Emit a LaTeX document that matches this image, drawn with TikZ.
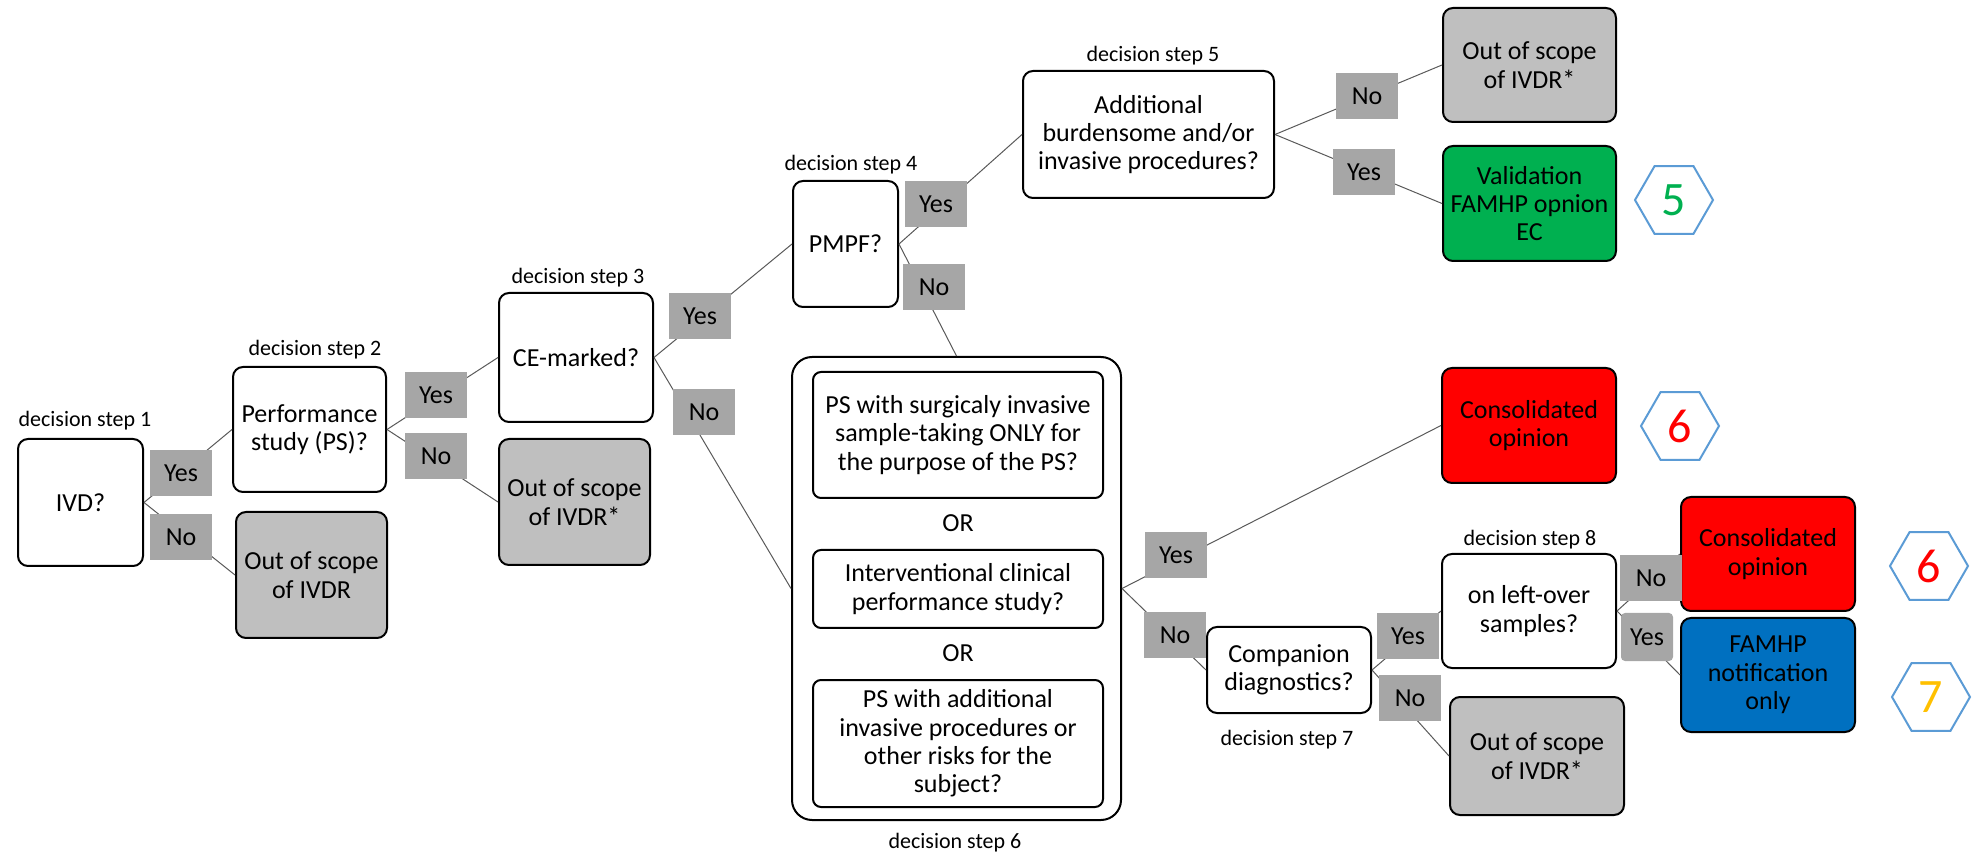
\documentclass[tikz,border=0pt]{standalone}
\usepackage{fontspec}
\setmainfont{Carlito}
\usetikzlibrary{shapes.geometric}

\definecolor{labgray}{RGB}{166,166,166}
\definecolor{outgray}{RGB}{191,191,191}
\definecolor{okgreen}{RGB}{0,176,80}
\definecolor{famblue}{RGB}{0,112,192}
\definecolor{hexblue}{RGB}{91,155,213}
\definecolor{numorange}{RGB}{255,192,0}
\definecolor{linegray}{RGB}{89,89,89}

\tikzset{
  decbox/.style={draw=black, line width=1pt, fill=white, rounded corners=5pt,
    align=center, inner sep=2pt, font=\fontsize{13}{14.2}\selectfont},
  outbox/.style={decbox, fill=outgray},
  greenbox/.style={decbox, fill=okgreen},
  redbox/.style={decbox, fill=red},
  bluebox/.style={decbox, fill=famblue},
  lab/.style={fill=labgray, minimum width=31pt, minimum height=23pt, inner sep=1pt,
    font=\fontsize{13}{14.2}\selectfont},
  steplab/.style={inner sep=0.75pt, font=\fontsize{11}{13}\selectfont},
  conn/.style={draw=linegray, line width=0.5pt},
  hexa/.style={regular polygon, regular polygon sides=6, draw=hexblue, line width=1pt,
    minimum size=39pt, inner sep=0pt, font=\fontsize{24}{28}\selectfont},
}

\begin{document}
\begin{tikzpicture}[x=0.5pt,y=0.5pt,yscale=-1,xscale=1]
\useasboundingbox (0,0) rectangle (1972,855);

%Shape: Rounded Rect (questions)
\node[decbox, minimum width=62.5pt, minimum height=63.5pt] (ivd) at (80.5,502.5) {IVD?};
\node[decbox, minimum width=76.5pt, minimum height=62.5pt] (ps) at (309.5,429.5) {Performance\\study (PS)?};
\node[decbox, minimum width=77pt, minimum height=64.5pt] (ce) at (576,357.5) {CE-marked?};
\node[decbox, minimum width=52.5pt, minimum height=63pt] (pmpf) at (845.5,244) {PMPF?};
\node[decbox, minimum width=125.5pt, minimum height=63.5pt] (add) at (1148.5,134.5) {Additional\\burdensome and/or\\invasive procedures?};
\node[decbox, minimum width=82pt, minimum height=43pt] (cd) at (1289,670) {Companion\\diagnostics?};
\node[decbox, minimum width=87pt, minimum height=57pt] (left) at (1529,611) {on left-over\\samples?};

%Shape: Rounded Rect (decision step 6)
\node[decbox, rounded corners=10pt, minimum width=164.5pt, minimum height=231.5pt] (s6) at (956.5,588.5) {};
\node[decbox, rounded corners=4pt, minimum width=145pt, minimum height=63pt] (in1) at (958,435) {PS with surgicaly invasive\\sample-taking ONLY for\\the purpose of the PS?};
\node[decbox, rounded corners=4pt, minimum width=145pt, minimum height=39pt] (in2) at (958,589) {Interventional clinical\\performance study?};
\node[decbox, rounded corners=4pt, minimum width=145pt, minimum height=63.5pt] (in3) at (958,743.5) {PS with additional\\invasive procedures or\\other risks for the\\subject?};
\node[font=\fontsize{13}{14.2}\selectfont] (or1) at (958,523) {OR};
\node[font=\fontsize{13}{14.2}\selectfont] (or2) at (958,653) {OR};

%Shape: Rounded Rect (outcomes)
\node[outbox, minimum width=75.5pt, minimum height=63pt] (out1) at (311.5,575) {Out of scope\\of IVDR};
\node[outbox, minimum width=75.5pt, minimum height=63pt] (out2) at (574.5,502) {Out of scope\\of IVDR*};
\node[outbox, minimum width=86.5pt, minimum height=57pt] (out3) at (1529.5,65) {Out of scope\\of IVDR*};
\node[outbox, minimum width=87pt, minimum height=59pt] (out4) at (1537,756) {Out of scope\\of IVDR*};
\node[greenbox, minimum width=86.5pt, minimum height=57.5pt] (valid) at (1529.5,203.5) {Validation\\FAMHP opnion\\EC};
\node[redbox, minimum width=87pt, minimum height=57.5pt] (cons1) at (1529,425.5) {Consolidated\\opinion};
\node[redbox, minimum width=87pt, minimum height=57pt] (cons2) at (1768,554) {Consolidated\\opinion};
\node[bluebox, minimum width=87pt, minimum height=57pt] (famhp) at (1768,675) {FAMHP\\notification\\only};

%Shape: Hexagon
\node[hexa, text=okgreen] (hex5) at (1674,200) {5};
\node[hexa, text=red] (hex6a) at (1680,426) {6};
\node[hexa, text=red] (hex6b) at (1929,566) {6};
\node[hexa, text=numorange] (hex7) at (1931,697) {7};

% Text Node
\node[steplab] (ds1) at (85,421) {decision step 1};
\node[steplab] (ds2) at (315,350) {decision step 2};
\node[steplab] (ds3) at (578,278) {decision step 3};
\node[steplab] (ds4) at (851,165) {decision step 4};
\node[steplab] (ds5) at (1153,56) {decision step 5};
\node[steplab] (ds6) at (955,843) {decision step 6};
\node[steplab] (ds7) at (1287,740) {decision step 7};
\node[steplab] (ds8) at (1530,540) {decision step 8};

%Straight Lines
\draw[conn] (ivd.east) -- (ps.west);
\draw[conn] (ivd.east) -- (out1.west);
\draw[conn] (ps.east) -- (ce.west);
\draw[conn] (ps.east) -- (out2.west);
\draw[conn] (ce.east) -- (pmpf.west);
\draw[conn] (ce.east) -- (s6.west);
\draw[conn] (pmpf.east) -- (s6.north);
\draw[conn] (pmpf.east) -- (add.west);
\draw[conn] (add.east) -- (out3.west);
\draw[conn] (add.east) -- (valid.west);
\draw[conn] (s6.east) -- (cons1.west);
\draw[conn] (s6.east) -- (cd.west);
\draw[conn] (cd.east) -- (left.west);
\draw[conn] (cd.east) -- (out4.west);
\draw[conn] (left.east) -- (cons2.west);
\draw[conn] (left.east) -- (famhp.west);

% Text Node (answers)
\node[lab] (ivdY) at (181,473) {Yes};
\node[lab] (ivdN) at (181,537) {No};
\node[lab] (psY) at (436,395) {Yes};
\node[lab] (psN) at (436,456) {No};
\node[lab] (ceY) at (700,316) {Yes};
\node[lab] (ceN) at (704,412) {No};
\node[lab] (pmY) at (936,204) {Yes};
\node[lab] (pmN) at (934,287) {No};
\node[lab] (adN) at (1367,96) {No};
\node[lab] (adY) at (1364,172) {Yes};
\node[lab] (s6Y) at (1176,555) {Yes};
\node[lab] (s6N) at (1175,635) {No};
\node[lab] (cdY) at (1408,636) {Yes};
\node[lab] (cdN) at (1410,698) {No};
\node[lab] (s8N) at (1651,578) {No};
\node[lab, rounded corners=2pt, minimum width=26pt, minimum height=24pt] (s8Y) at (1647,637) {Yes};

\end{tikzpicture}
\end{document}
